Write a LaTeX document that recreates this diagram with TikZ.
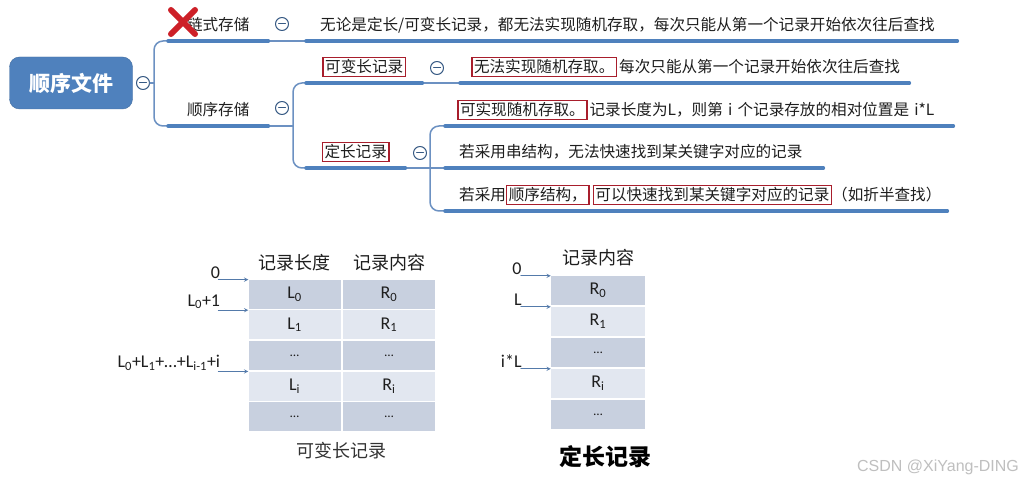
\documentclass[tikz,border=0pt]{standalone}
\usepackage{fontspec}
\setmainfont{Carlito}
\newfontfamily\cjk{Noto Sans CJK SC}
\newfontfamily\markfont{Liberation Sans}
\usetikzlibrary{shapes.misc}
\definecolor{mapblue}{RGB}{79,129,189}
\definecolor{linkblue}{RGB}{108,145,194}
\definecolor{boxred}{RGB}{168,30,44}
\definecolor{nored}{RGB}{205,32,40}
\definecolor{rowdark}{RGB}{200,208,223}
\definecolor{rowlight}{RGB}{226,231,240}
\definecolor{arrowblue}{RGB}{84,122,170}
\definecolor{txt}{RGB}{30,30,30}
\newcommand\hl[1]{{\setlength\fboxsep{1.5pt}\setlength\fboxrule{1.3pt}\fcolorbox{boxred}{white}{#1}}}
\newcommand\cjksize{\cjk\fontsize{15.6}{19}\selectfont}
\newcommand\celldots{{\fontsize{13}{15}\selectfont…}}
\tikzset{
  root/.style={rounded corners=10pt,fill=mapblue,draw=mapblue!85!black,minimum width=123pt,
    minimum height=52pt,text=white,font=\cjk\bfseries\fontsize{21}{24}\selectfont},
  fold/.style={circle,draw=mapblue!70!black,fill=white,line width=1pt,minimum size=13pt,inner sep=0pt,
    path picture={\draw[line width=1pt,mapblue!70!black]
      ([xshift=3.5pt]path picture bounding box.center) -- ([xshift=-3.5pt]path picture bounding box.center);}},
  topic/.style={anchor=south west,minimum width=#1,inner xsep=0pt,inner ysep=6pt,
    text height=12pt,text depth=4pt,font=\cjksize,text=txt},
  leaf/.style={anchor=south west,text width=#1,align=left,inner xsep=14pt,inner ysep=6pt,
    text height=12pt,text depth=4pt,font=\cjksize,text=txt},
  uline/.style={mapblue,line width=3.5pt},
  link/.style={linkblue,line width=1.5pt,rounded corners=9pt},
  cell/.style={minimum width=92pt,minimum height=29pt,inner sep=0pt,fill=#1,
    font=\fontsize{18}{21}\selectfont,text=txt},
  head/.style={font=\cjk\fontsize{18}{21}\selectfont,text=txt},
  ptr/.style={->,arrowblue,line width=0.9pt},
  ptrlab/.style={anchor=south east,inner sep=1pt,font=\fontsize{18}{21}\selectfont,text=txt},
}
\begin{document}
\begin{tikzpicture}[x=1pt,y=-1pt,>=stealth,line join=round,line cap=round]
\useasboundingbox[fill=white] (0,0) rectangle (1032,486);
% mind map
\node[root] (file) at (71,83) {顺序文件};
\node[fold] (f0) at (143,83) {};
\node[topic=100pt] (chain) at (168,41) {链式存储};
\node[topic=100pt] (seq) at (168,126) {顺序存储};
\node[topic=116pt] (var) at (306,83) {\hl{可变长记录}};
\node[topic=99pt] (fixed) at (306,168) {\hl{定长记录}};
\node[leaf=623pt] (l1) at (306,41) {\mbox{无论是定长/可变长记录，都无法实现随机存取，每次只能从第一个记录开始依次往后查找}};
\node[leaf=427pt,inner xsep=11pt] (l2) at (460,83) {\mbox{\hl{无法实现随机存取。}\hspace{2pt}每次只能从第一个记录开始依次往后查找}};
\node[leaf=484pt,inner xsep=12pt] (l3) at (445,126) {\mbox{\hl{可实现随机存取。}\hspace{2pt}记录长度为L，则第 i 个记录存放的相对位置是 i*L}};
\node[leaf=350pt] (l4) at (445,168) {\mbox{若采用串结构，无法快速找到某关键字对应的记录}};
\node[leaf=474pt] (l5) at (445,211) {\mbox{若采用\hl{顺序结构，}\hspace{3pt}\hl{可以快速找到某关键字对应的记录}（如折半查找）}};
% branches
\coordinate (j0) at (154,83);
\coordinate (j1) at (293,126);
\coordinate (j2) at (430,168);
\draw[link] (f0.east) -- (j0);
\draw[link] (j0) |- (chain.south west);
\draw[link] (j0) |- (seq.south west);
\draw[link] (chain.south east) -- (l1.south west);
\draw[link] (seq.south east) -- (j1);
\draw[link] (j1) |- (var.south west);
\draw[link] (j1) |- (fixed.south west);
\draw[link] (var.south east) -- (l2.south west);
\draw[link] (fixed.south east) -- (j2) -- (l4.south west);
\draw[link] (j2) |- (l3.south west);
\draw[link] (j2) |- (l5.south west);
\foreach \n in {chain,seq,var,fixed,l1,l2,l3,l4,l5}
  \draw[uline] (\n.south west) -- (\n.south east);
\node[fold] (f1) at (282,24) {};
\node[fold] (f2) at (282,108) {};
\node[fold] (f3) at (437,68) {};
\node[fold] (f4) at (420,153) {};
\node[cross out,draw=nored,line width=6pt,minimum size=18pt,inner sep=0pt] (nogo) at (183,22) {};
% variable length records
\node[head] (hlen) at (294,263) {记录长度};
\node[head] (hcon) at (389,263) {记录内容};
\foreach \i/\a/\b/\c in {0/L\textsubscript{0}/R\textsubscript{0}/rowdark,1/L\textsubscript{1}/R\textsubscript{1}/rowlight,
    2/\celldots/\celldots/rowdark,3/L\textsubscript{i}/R\textsubscript{i}/rowlight,4/\celldots/\celldots/rowdark}{
  \node[cell=\c] (va\i) at (294.5,{294.3+30.6*\i}) {\a};
  \node[cell=\c] (vb\i) at (389,{294.3+30.6*\i}) {\b};
}
\foreach \r/\t in {0/0,1/L\textsubscript{0}+1,3/L\textsubscript{0}+L\textsubscript{1}+…+L\textsubscript{i-1}+i}{
  \coordinate (pv\r) at ([xshift=-30pt]va\r.north west);
  \draw[ptr] (pv\r) -- (va\r.north west);
  \node[ptrlab] (qv\r) at ([xshift=3pt]pv\r) {\t};
}
\node[font=\cjk\fontsize{18}{21}\selectfont,text=black!80] (capv) at (341,451) {可变长记录};
% fixed length records
\node[head] (hfix) at (598,258) {记录内容};
\foreach \i/\b/\c in {0/R\textsubscript{0}/rowdark,1/R\textsubscript{1}/rowlight,2/\celldots/rowdark,
    3/R\textsubscript{i}/rowlight,4/\celldots/rowdark}{
  \node[cell=\c,minimum width=94pt] (fr\i) at (598,{290.5+31*\i}) {\b};
}
\foreach \r/\t in {0/0,1/L,3/i*L}{
  \coordinate (pf\r) at ([xshift=-30pt]fr\r.north west);
  \draw[ptr] (pf\r) -- (fr\r.north west);
  \node[ptrlab] (qf\r) at ([xshift=2pt]pf\r) {\t};
}
\node[font=\cjk\bfseries\fontsize{23}{26}\selectfont] (capf) at (605,457) {定长记录};
\node[font=\markfont\fontsize{16}{19}\selectfont,text=black!25] (mark) at (938,467) {CSDN @XiYang-DING};
\end{tikzpicture}
\end{document}
